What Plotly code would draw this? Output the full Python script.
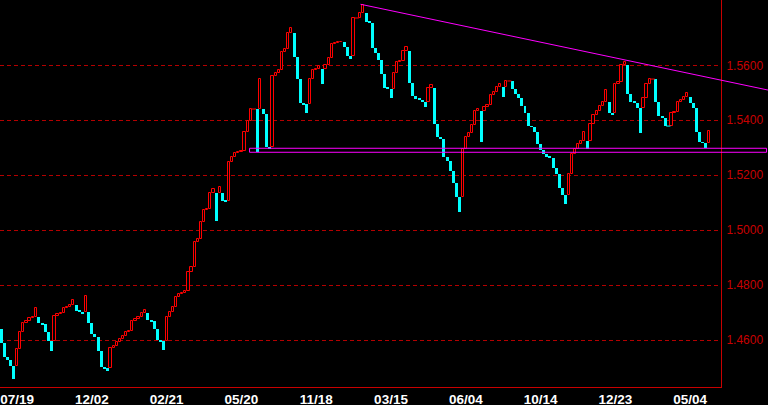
import plotly.graph_objects as go

# ---- data (line-break style bars) ----
first_open = 1.4641
closes = [
    1.4590, 1.4539, 1.4528, 1.4507, 1.4459, 1.4568, 1.4630, 1.4663, 1.4670, 1.4681,
    1.4685, 1.4718, 1.4663, 1.4659, 1.4630, 1.4597, 1.4561, 1.4688, 1.4696, 1.4699,
    1.4718, 1.4721, 1.4728, 1.4747, 1.4707, 1.4703, 1.4699, 1.4761, 1.4663, 1.4623,
    1.4612, 1.4561, 1.4503, 1.4499, 1.4488, 1.4572, 1.4579, 1.4594, 1.4605, 1.4616,
    1.4630, 1.4634, 1.4670, 1.4678, 1.4685, 1.4699, 1.4710, 1.4674, 1.4670, 1.4641,
    1.4601, 1.4597, 1.4565, 1.4685, 1.4703, 1.4721, 1.4758, 1.4768, 1.4772, 1.4779,
    1.4848, 1.4867, 1.4958, 1.4968, 1.5030, 1.5074, 1.5078, 1.5136, 1.5150, 1.5034,
    1.5158, 1.5107, 1.5103, 1.5248, 1.5267, 1.5281, 1.5285, 1.5288, 1.5358, 1.5398,
    1.5441, 1.5441, 1.5285, 1.5550, 1.5423, 1.5303, 1.5296, 1.5561, 1.5572, 1.5583,
    1.5648, 1.5659, 1.5718, 1.5736, 1.5630, 1.5550, 1.5463, 1.5459, 1.5427, 1.5550,
    1.5583, 1.5587, 1.5598, 1.5532, 1.5601, 1.5627, 1.5678, 1.5680, 1.5684, 1.5686,
    1.5667, 1.5634, 1.5623, 1.5772, 1.5772, 1.5790, 1.5819, 1.5758, 1.5754, 1.5663,
    1.5645, 1.5619, 1.5568, 1.5518, 1.5514, 1.5481, 1.5572, 1.5612, 1.5616, 1.5652,
    1.5667, 1.5536, 1.5488, 1.5478, 1.5474, 1.5467, 1.5448, 1.5518, 1.5528, 1.5387,
    1.5339, 1.5332, 1.5267, 1.5252, 1.5216, 1.5172, 1.5121, 1.5067, 1.5296, 1.5339,
    1.5354, 1.5383, 1.5434, 1.5441, 1.5321, 1.5448, 1.5456, 1.5492, 1.5503, 1.5521,
    1.5532, 1.5485, 1.5543, 1.5543, 1.5514, 1.5496, 1.5481, 1.5452, 1.5427, 1.5379,
    1.5376, 1.5358, 1.5314, 1.5292, 1.5278, 1.5267, 1.5263, 1.5227, 1.5205, 1.5154,
    1.5128, 1.5096, 1.5205, 1.5278, 1.5296, 1.5314, 1.5325, 1.5358, 1.5296, 1.5387,
    1.5419, 1.5434, 1.5452, 1.5467, 1.5510, 1.5427, 1.5419, 1.5532, 1.5539, 1.5601,
    1.5612, 1.5496, 1.5467, 1.5463, 1.5445, 1.5354, 1.5481, 1.5532, 1.5550, 1.5550,
    1.5467, 1.5416, 1.5408, 1.5379, 1.5379, 1.5427, 1.5430, 1.5467, 1.5474, 1.5485,
    1.5499, 1.5463, 1.5445, 1.5358, 1.5321, 1.5318, 1.5299, 1.5361,
]
tick_index = [5, 29, 53, 77, 101, 125, 149, 173, 197, 221]
tick_labels = ["07/19", "12/02", "02/21", "05/20", "11/18",
               "03/15", "06/04", "10/14", "12/23", "05/04"]
y_ticks = [1.46, 1.48, 1.50, 1.52, 1.54, 1.56]
support_band = [1.52837, 1.52982]      # bottom, top of the magenta box
support_start_index = 79.6
trend_start_index = 115.2
trend_prices = [1.5822, 1.5510]        # at start bar, at right edge of the image

# ---- build bars: each bar starts at the top/bottom of the previous one ----
up_x, up_base, up_h = [], [], []
dn_x, dn_base, dn_h = [], [], []
dj_x, dj_y, dj_c = [], [], []
prev_top = prev_bot = None
last_dir = -1
for i, c in enumerate(closes):
    if i == 0:
        o = first_open
    elif c > prev_top:
        o = prev_top
    elif c < prev_bot:
        o = prev_bot
    else:
        o = c
    if c > o:
        up_x.append(i); up_base.append(o); up_h.append(c - o); last_dir = 1
    elif c < o:
        dn_x.append(i); dn_base.append(c); dn_h.append(o - c); last_dir = -1
    else:
        dj_x.append(i); dj_y.append(c)
        dj_c.append("#ff0000" if last_dir > 0 else "#00ffff")
    prev_top, prev_bot = max(o, c), min(o, c)

FIG_W, FIG_H = 768, 405
ML, MR, MT, MB = 0, 47, 0, 18
PLOT_W = FIG_W - ML - MR
XMIN, XMAX = -0.48, 230.9
YMIN, YMAX = 1.4430, 1.58375


def xpaper(i):
    return (i - XMIN) / (XMAX - XMIN)


fig = go.Figure()
fig.add_trace(go.Bar(x=dn_x, y=dn_h, base=dn_base, width=0.96,
                     marker=dict(color="#00ffff", line=dict(width=0)),
                     hoverinfo="skip", showlegend=False))
fig.add_trace(go.Bar(x=up_x, y=up_h, base=up_base, width=0.72,
                     marker=dict(color="#000000", line=dict(color="#ff0000", width=1)),
                     hoverinfo="skip", showlegend=False))
fig.add_trace(go.Scatter(x=dj_x, y=dj_y, mode="markers",
                         marker=dict(symbol="line-ew", size=3, color=dj_c,
                                     line=dict(color=dj_c, width=1)),
                         hoverinfo="skip", showlegend=False))

red_axis = "#c80000"
fig.update_layout(
    width=FIG_W, height=FIG_H,
    margin=dict(l=ML, r=MR, t=MT, b=MB, pad=0),
    paper_bgcolor="#000000", plot_bgcolor="#000000",
    barmode="overlay", bargap=0,
    showlegend=False,
    xaxis=dict(range=[XMIN, XMAX], showgrid=False, zeroline=False,
               showline=True, linecolor=red_axis, linewidth=1,
               tickmode="array", tickvals=tick_index, ticktext=tick_labels,
               ticks="", automargin=False, ticklabeloverflow="allow",
               tickfont=dict(family="Liberation Sans, Arial", size=13.5,
                             color="#ffffff", weight="bold")),
    yaxis=dict(range=[YMIN, YMAX], side="right", showgrid=True,
               gridcolor="#b40000", griddash="4px,3px", gridwidth=1,
               zeroline=False, showline=True, linecolor=red_axis, linewidth=1,
               tickmode="array", tickvals=y_ticks,
               ticktext=[f"{v:.4f}" for v in y_ticks],
               ticks="", ticklabelstandoff=2, automargin=False,
               ticklabeloverflow="allow",
               tickfont=dict(family="Liberation Sans, Arial", size=12,
                             color=red_axis)),
    shapes=[
        dict(type="line", xref="paper", yref="y",
             x0=xpaper(trend_start_index), y0=trend_prices[0],
             x1=FIG_W / PLOT_W, y1=trend_prices[1],
             line=dict(color="#ff00ff", width=1)),
        dict(type="rect", xref="paper", yref="y",
             x0=xpaper(support_start_index), x1=(FIG_W - 1.5) / PLOT_W,
             y0=support_band[0], y1=support_band[1],
             line=dict(color="#ff00ff", width=1), fillcolor="rgba(0,0,0,0)"),
    ],
)

fig.write_html(
    "out.html",
    config={"displayModeBar": False},
    post_script="document.body.style.margin='0';document.body.style.overflow='hidden';",
)
